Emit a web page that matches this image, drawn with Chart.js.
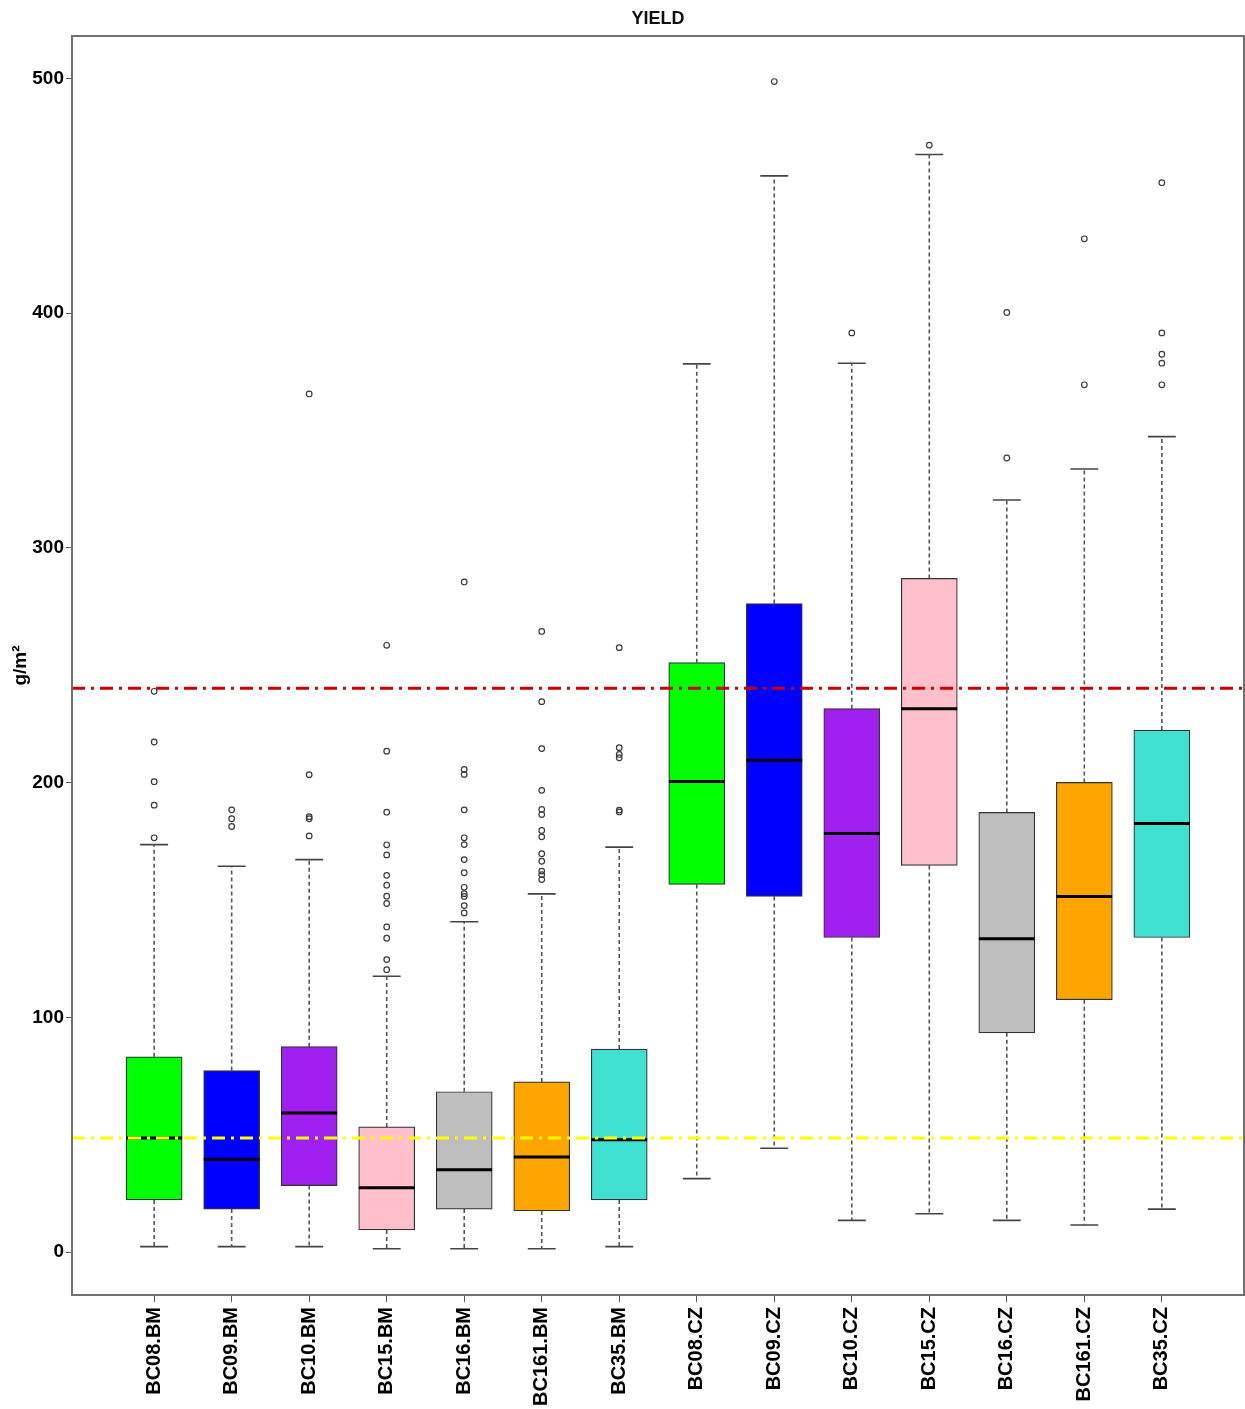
<!DOCTYPE html>
<html>
<head>
<meta charset="utf-8">
<script src="https://cdn.jsdelivr.net/npm/chart.js@4.4.1/dist/chart.umd.min.js"></script>
<style>
  html, body { margin: 0; padding: 0; background: #ffffff; }
  #wrap { width: 1245px; height: 1409px; }
</style>
</head>
<body>
<div id="wrap"><canvas id="c" width="1245" height="1409"></canvas></div>
<script>
// ---------------- data ----------------
const categories = ["BC08.BM","BC09.BM","BC10.BM","BC15.BM","BC16.BM","BC161.BM","BC35.BM",
                    "BC08.CZ","BC09.CZ","BC10.CZ","BC15.CZ","BC16.CZ","BC161.CZ","BC35.CZ"];
const whiskerLow  = [2.3, 2.3, 2.3, 1.4, 1.4, 1.4, 2.3, 31.3, 44.2, 13.5, 16.3, 13.5, 11.5, 18.3];
const quartile1   = [22.2, 18.3, 28.3, 9.4, 18.3, 17.5, 22.2, 156.6, 151.5, 134.0, 164.7, 93.4, 107.5, 134.0];
const medians     = [48.6, 39.5, 59.2, 27.4, 35.1, 40.5, 47.8, 200.5, 209.5, 178.3, 231.5, 133.5, 151.5, 182.6];
const quartile3   = [83.2, 77.3, 87.5, 53.3, 68.3, 72.5, 86.5, 251.1, 276.3, 231.5, 287.0, 187.3, 200.1, 222.4];
const whiskerHigh = [173.6, 164.4, 167.2, 117.5, 140.7, 152.6, 172.5, 378.4, 458.5, 378.7, 467.6, 320.4, 333.6, 347.4];
const outliers = [
  [238.9, 217.3, 200.4, 190.4, 176.5],
  [188.4, 184.6, 181.3],
  [365.6, 203.4, 185.5, 184.6, 177.3],
  [258.5, 213.4, 187.4, 173.5, 169.2, 160.5, 156.3, 151.6, 148.5, 138.5, 133.7, 124.6, 120.3],
  [285.5, 205.6, 203.5, 188.4, 176.5, 173.6, 167.2, 161.6, 155.4, 152.7, 151.5, 147.6, 144.5],
  [264.4, 234.5, 214.5, 196.7, 188.6, 186.4, 179.6, 176.9, 169.7, 166.5, 162.3, 160.8, 158.7],
  [257.5, 214.9, 212.0, 210.6, 188.3, 187.5],
  [],
  [498.7],
  [391.6],
  [471.6],
  [400.3, 338.3],
  [431.7, 369.5],
  [455.6, 391.6, 382.5, 378.7, 369.5]
];
const redLineValue = 240.2;
const yellowLineValue = 48.6;
const yTicks = [0, 100, 200, 300, 400, 500];

// ---------------- styles ----------------
const boxColors = ["#00FF00","#0000FF","#A020F0","#FFC0CB","#BEBEBE","#FFA500","#40E0D0",
                   "#00FF00","#0000FF","#A020F0","#FFC0CB","#BEBEBE","#FFA500","#40E0D0"];
const FONT = "'Liberation Sans', Arial, Helvetica, sans-serif";
const halfBox = 0.36;   // in category units
const halfCap = 0.18;
const xMin = -0.06, xMax = 15.06;

// ---------------- build datasets ----------------
const boxData = categories.map((c, i) => ({ x: i + 1, y: [quartile1[i], quartile3[i]] }));

const whiskerData = [];
categories.forEach((c, i) => {
  whiskerData.push({ x: i + 1, y: quartile3[i] }, { x: i + 1, y: whiskerHigh[i] }, { x: i + 1, y: null });
  whiskerData.push({ x: i + 1, y: quartile1[i] }, { x: i + 1, y: whiskerLow[i] }, { x: i + 1, y: null });
});

const capData = [];
categories.forEach((c, i) => {
  capData.push({ x: i + 1 - halfCap, y: whiskerHigh[i] }, { x: i + 1 + halfCap, y: whiskerHigh[i] }, { x: i + 1, y: null });
  capData.push({ x: i + 1 - halfCap, y: whiskerLow[i] }, { x: i + 1 + halfCap, y: whiskerLow[i] }, { x: i + 1, y: null });
});

const medianData = [];
categories.forEach((c, i) => {
  medianData.push({ x: i + 1 - halfBox, y: medians[i] }, { x: i + 1 + halfBox, y: medians[i] }, { x: i + 1, y: null });
});

const outlierData = [];
outliers.forEach((arr, i) => arr.forEach(v => outlierData.push({ x: i + 1, y: v })));

const framePlugin = {
  id: 'frame',
  afterDraw(chart) {
    const a = chart.chartArea, ctx = chart.ctx;
    ctx.save();
    ctx.strokeStyle = '#707070';
    ctx.lineWidth = 2;
    ctx.strokeRect(a.left, a.top, a.right - a.left, a.bottom - a.top);
    ctx.restore();
  }
};

new Chart(document.getElementById('c'), {
  type: 'bar',
  data: {
    datasets: [
      { type: 'line', label: 'red', data: [{x: xMin, y: redLineValue}, {x: xMax, y: redLineValue}],
        borderColor: '#CC0000', borderWidth: 3, borderDash: [13, 6, 3, 6], pointRadius: 0, order: -2 },
      { type: 'line', label: 'yellow', data: [{x: xMin, y: yellowLineValue}, {x: xMax, y: yellowLineValue}],
        borderColor: '#FFFF00', borderWidth: 3, borderDash: [13, 6, 3, 6], pointRadius: 0, order: -1 },
      { type: 'line', label: 'median', data: medianData, borderColor: '#000000', borderWidth: 3,
        pointRadius: 0, spanGaps: false, order: 0 },
      { type: 'scatter', label: 'outliers', data: outlierData, pointStyle: 'circle', pointRadius: 2.8,
        backgroundColor: 'rgba(255,255,255,0)', borderColor: '#3a3a3a', pointBorderWidth: 1.2, order: 1 },
      { type: 'bar', label: 'box', data: boxData, backgroundColor: boxColors, borderColor: '#333333',
        borderWidth: 1.2, borderSkipped: false, barThickness: 56, grouped: false, order: 2 },
      { type: 'line', label: 'whisker', data: whiskerData, borderColor: '#555555', borderWidth: 1.6,
        borderDash: [4, 3], pointRadius: 0, spanGaps: false, order: 3 },
      { type: 'line', label: 'cap', data: capData, borderColor: '#444444', borderWidth: 1.6,
        pointRadius: 0, spanGaps: false, order: 3 }
    ]
  },
  options: {
    responsive: false,
    animation: false,
    layout: { autoPadding: false, padding: { left: 0, right: 1, top: 0, bottom: 0 } },
    plugins: {
      legend: { display: false },
      tooltip: { enabled: false },
      title: {
        display: true, text: 'YIELD', fullSize: false, color: '#111111',
        font: { family: FONT, size: 18, weight: 'bold', lineHeight: 1.2 },
        padding: { top: 8, bottom: 6.4 }
      }
    },
    scales: {
      x: {
        type: 'linear', min: xMin, max: xMax, offset: false,
        afterBuildTicks: (axis) => { axis.ticks = categories.map((c, i) => ({ value: i + 1 })); },
        afterFit: (axis) => { axis.height = 114; axis.paddingLeft = 0; axis.paddingRight = 0; },
        ticks: {
          autoSkip: false, minRotation: 90, maxRotation: 90, padding: 5, color: '#000000',
          font: { family: FONT, size: 20, weight: 'bold' },
          callback: (v) => categories[Math.round(v) - 1] || ''
        },
        grid: { offset: false, drawOnChartArea: false, drawTicks: true, tickLength: 7, color: '#555555', lineWidth: 1 },
        border: { display: false }
      },
      y: {
        type: 'linear', min: -18.3, max: 518.1,
        afterBuildTicks: (axis) => { axis.ticks = yTicks.map(v => ({ value: v })); },
        afterFit: (axis) => { axis.width = 72; axis.paddingTop = 0; axis.paddingBottom = 0; },
        ticks: {
          padding: 2, color: '#000000',
          font: { family: FONT, size: 19, weight: 'bold' }
        },
        grid: { drawOnChartArea: false, drawTicks: true, tickLength: 6, color: '#555555', lineWidth: 1 },
        border: { display: false },
        title: {
          display: true, text: 'g/m²', color: '#000000',
          font: { family: FONT, size: 19, weight: 'bold', lineHeight: 1.2 },
          padding: { top: 9, bottom: 0 }
        }
      }
    }
  },
  plugins: [framePlugin]
});
</script>
</body>
</html>
